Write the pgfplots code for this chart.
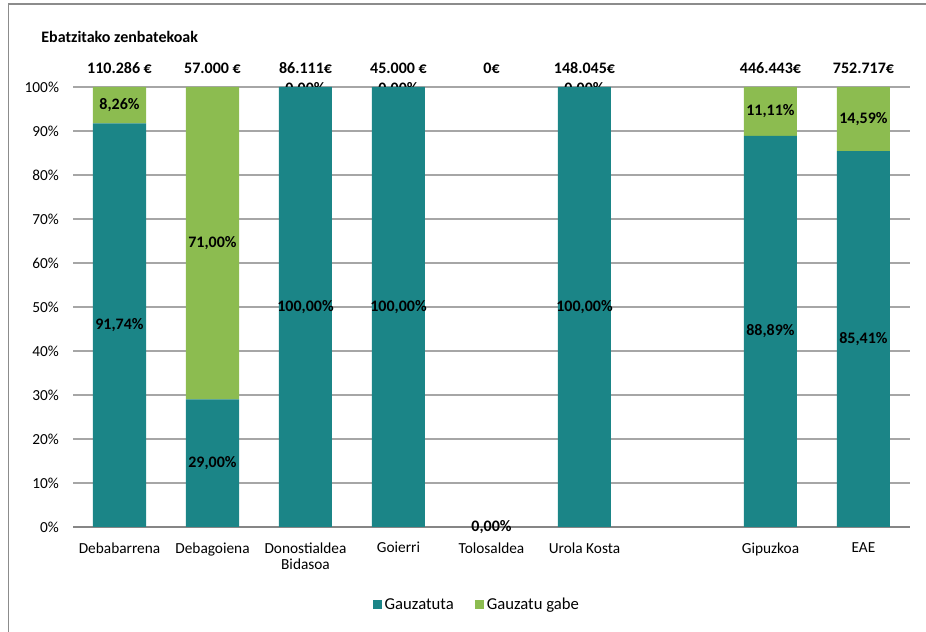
\documentclass[border=0pt]{standalone}
\usepackage{fontspec}
\setmainfont{Carlito}
\usepackage{pgfplots}
\pgfplotsset{compat=1.18}
\definecolor{tealbar}{RGB}{27,133,135}
\definecolor{greenbar}{RGB}{140,188,80}
\definecolor{gridgray}{RGB}{166,166,166}
\definecolor{axisgray}{RGB}{134,134,134}
\definecolor{framegray}{RGB}{140,140,140}
\newcommand{\lblfont}{\bfseries\fontsize{12}{14}\selectfont}
\begin{document}
\begin{tikzpicture}
\useasboundingbox (0,0) rectangle (694.5pt,474pt);
\draw[framegray, line width=1.1pt] (6.4pt,0) -- (6.4pt,471pt) -- (694.5pt,471pt);
\begin{axis}[
    at={(54.75pt,78.75pt)}, anchor=south west,
    scale only axis, width=627.75pt, height=330pt,
    ybar stacked, bar width=39.75pt,
    xmin=-0.5, xmax=8.5, ymin=0, ymax=100,
    clip=false,
    axis x line*=bottom, axis y line*=left,
    y axis line style={draw=none},
    x axis line style={draw=axisgray, line width=1.3pt, -},
    tick style={draw=none},
    ytick={0,10,...,100},
    yticklabel={\pgfmathprintnumber{\tick}\%},
    yticklabel style={font=\fontsize{11.5}{13}\selectfont, xshift=-7pt},
    xtick={0,1,2,3,4,5,7,8},
    xticklabels={Debabarrena, Debagoiena, {Donostialdea\\Bidasoa}, Goierri, Tolosaldea, Urola Kosta, Gipuzkoa, EAE},
    xticklabel style={font=\fontsize{11.5}{12}\selectfont, align=center, yshift=-8pt},
    /pgf/number format/assume math mode=true,
    ymajorgrids=true,
    grid style={draw=gridgray, line width=0.9pt},
    point meta=rawy,
    nodes near coords={\pgfmathprintnumber[fixed,fixed zerofill,precision=2,use comma]{\pgfplotspointmeta}\%},
    every node near coord/.append style={font=\lblfont, anchor=center},
    legend style={at={(0.483,-0.177)}, anchor=center, draw=none, legend columns=2,
        font=\fontsize{12.5}{14}\selectfont,
        /tikz/every even column/.append style={column sep=14pt}},
    legend image code/.code={\fill[#1] (0pt,-3.4pt) rectangle (6.8pt,3.4pt);},
]

% Gauzatuta
\addplot[fill=tealbar, draw=none] coordinates {
    (0,91.74) (1,29) (2,100) (3,100) (4,0) (5,100) (7,88.89) (8,85.41)
};

% Gauzatu gabe
\addplot[fill=greenbar, draw=none] coordinates {
    (0,8.26) (1,71) (2,0) (3,0) (4,0) (5,0) (7,11.11) (8,14.59)
};

\legend{Gauzatuta, Gauzatu gabe}

% zero-height segments get no node near coord
\node[font=\lblfont] at (axis cs:2,99.6) {0,00\%};
\node[font=\lblfont] at (axis cs:3,99.6) {0,00\%};
\node[font=\lblfont] at (axis cs:5,99.6) {0,00\%};
\node[font=\lblfont] at (axis cs:4,0) {0,00\%};

\node[anchor=west, font=\lblfont] at (axis cs:-0.89,111.4) {Ebatzitako zenbatekoak};
\node[font=\lblfont] at (axis cs:0,104.3) {110.286 €};
\node[font=\lblfont] at (axis cs:1,104.3) {57.000 €};
\node[font=\lblfont] at (axis cs:2,104.3) {86.111€};
\node[font=\lblfont] at (axis cs:3,104.3) {45.000 €};
\node[font=\lblfont] at (axis cs:4,104.3) {0€};
\node[font=\lblfont] at (axis cs:5,104.3) {148.045€};
\node[font=\lblfont] at (axis cs:7,104.3) {446.443€};
\node[font=\lblfont] at (axis cs:8,104.3) {752.717€};

\end{axis}
\end{tikzpicture}
\end{document}
